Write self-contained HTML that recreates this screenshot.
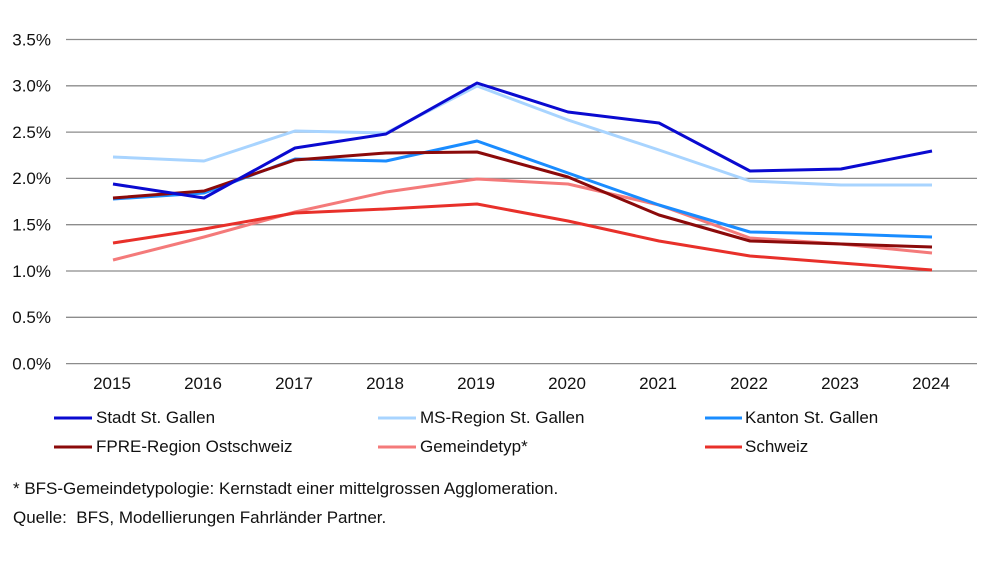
<!DOCTYPE html>
<html><head><meta charset="utf-8"><style>
body{margin:0;background:#fff;}
svg{display:block;font-family:"Liberation Sans",Arial,sans-serif;}
</style></head><body>
<svg width="1000" height="562" viewBox="0 0 1000 562" xmlns="http://www.w3.org/2000/svg">
<rect width="1000" height="562" fill="#fff"/>
<g stroke="#8c8c8c" stroke-width="1.3">
<line x1="66" x2="977" y1="39.5" y2="39.5"/>
<line x1="66" x2="977" y1="85.8" y2="85.8"/>
<line x1="66" x2="977" y1="132.1" y2="132.1"/>
<line x1="66" x2="977" y1="178.4" y2="178.4"/>
<line x1="66" x2="977" y1="224.7" y2="224.7"/>
<line x1="66" x2="977" y1="271" y2="271"/>
<line x1="66" x2="977" y1="317.3" y2="317.3"/>
<line x1="66" x2="977" y1="363.6" y2="363.6"/>
</g>
<g font-size="17" fill="#111" text-anchor="end">
<text x="51" y="45.5">3.5%</text><text x="51" y="91.5">3.0%</text><text x="51" y="138">2.5%</text><text x="51" y="184">2.0%</text><text x="51" y="230.5">1.5%</text><text x="51" y="277">1.0%</text><text x="51" y="323">0.5%</text><text x="51" y="369.5">0.0%</text>
</g>
<g font-size="17" fill="#111" text-anchor="middle">
<text x="112" y="389">2015</text><text x="203" y="389">2016</text><text x="294" y="389">2017</text><text x="385" y="389">2018</text><text x="476" y="389">2019</text><text x="567" y="389">2020</text><text x="658" y="389">2021</text><text x="749" y="389">2022</text><text x="840" y="389">2023</text><text x="931" y="389">2024</text>
</g>
<g fill="none" stroke-width="3" stroke-linejoin="round">
<polyline stroke="#a8d4ff" points="113,157 204,161 295,131 386,133 477,86 568,120 659,150 750,181 841,185 932,185"/>
<polyline stroke="#f47a7a" points="113,260 204,237 295,212 386,192 477,179 568,184 659,205 750,238 841,244 932,253"/>
<polyline stroke="#e8302a" points="113,243 204,229 295,213 386,209 477,204 568,221 659,241 750,256 841,263 932,270"/>
<polyline stroke="#1a8cff" points="113,199 204,193 295,159 386,161 477,141 568,173 659,205 750,232 841,234 932,237"/>
<polyline stroke="#8b0a0a" points="113,198 204,191 295,160 386,153 477,152 568,177 659,215 750,241 841,244 932,247"/>
<polyline stroke="#0a0ad0" points="113,184 204,198 295,148 386,134 477,83 568,112 659,123 750,171 841,169 932,151"/>
</g>
<g stroke-width="3">
<line x1="54" x2="92" y1="418" y2="418" stroke="#0a0ad0"/>
<line x1="378" x2="416" y1="418" y2="418" stroke="#a8d4ff"/>
<line x1="705" x2="742" y1="418" y2="418" stroke="#1a8cff"/>
<line x1="54" x2="92" y1="447" y2="447" stroke="#8b0a0a"/>
<line x1="378" x2="416" y1="447" y2="447" stroke="#f47a7a"/>
<line x1="705" x2="742" y1="447" y2="447" stroke="#e8302a"/>
</g>
<g font-size="17" fill="#111">
<text x="96" y="423">Stadt St. Gallen</text>
<text x="420" y="423">MS-Region St. Gallen</text>
<text x="745" y="423">Kanton St. Gallen</text>
<text x="96" y="452">FPRE-Region Ostschweiz</text>
<text x="420" y="452">Gemeindetyp*</text>
<text x="745" y="452">Schweiz</text>
<text x="13" y="494">* BFS-Gemeindetypologie: Kernstadt einer mittelgrossen Agglomeration.</text>
<text x="13" y="523" xml:space="preserve">Quelle:  BFS, Modellierungen Fahrländer Partner.</text>
</g>
</svg>
</body></html>
